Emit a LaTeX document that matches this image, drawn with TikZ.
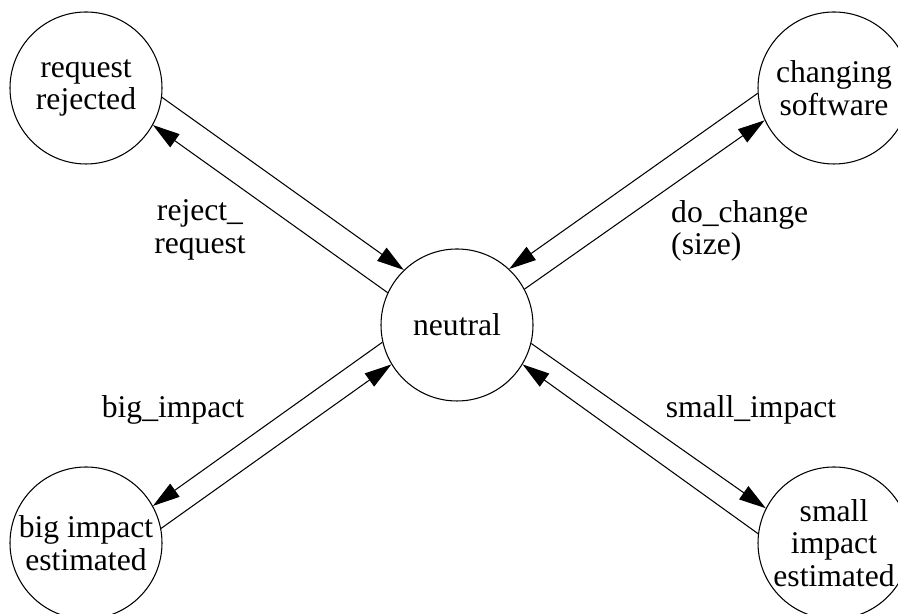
\documentclass[tikz,border=0pt]{standalone}
\usepackage{fontspec}
\setmainfont{Liberation Serif}
\usepackage{tikz}
\usetikzlibrary{arrows.meta}

\tikzset{
    state/.style={
        circle,
        draw=black,
        line width=0.6pt,
        minimum size=3.04cm,
        inner sep=0pt,
        align=center,
        font=\fontsize{18}{18.6}\selectfont
    },
    trans/.style={
        line width=0.6pt,
        -{Triangle[length=0.54cm,width=0.32cm]}
    },
    lbl/.style={
        font=\fontsize{18}{18.6}\selectfont
    }
}

\begin{document}
\begin{tikzpicture}

        \useasboundingbox (0,0) rectangle (17.96,12.28);

        % =====================================================
        % ESTADOS
        % =====================================================

        \node[state] (neutral) at (9.14,5.78) {neutral};

        \node[state] (rejected) at (1.72,10.52) {request\\rejected};
        \node[state] (changing) at (16.68,10.52) {changing\\software};
        \node[state] (bigimp) at (1.72,1.42) {big impact\\estimated};
        \node[state] (smallimp) at (16.68,1.42) {small\\impact\\estimated};

        % =====================================================
        % TRANSICIONES
        % =====================================================

        % Rechazo
        \draw[trans] (rejected.-7.5) -- (neutral.134.5);
        \draw[trans] (neutral.155.4) -- (rejected.-29.3);

        % Cambio
        \draw[trans] (changing.184) -- (neutral.47);
        \draw[trans] (neutral.28.2) -- (changing.205.2);

        % Impacto grande
        \draw[trans] (neutral.193) -- (bigimp.29.3);
        \draw[trans] (bigimp.11.9) -- (neutral.211.4);

        % Impacto pequeño
        \draw[trans] (neutral.-14.4) -- (smallimp.153.8);
        \draw[trans] (smallimp.173.2) -- (neutral.-31.8);

        % =====================================================
        % ETIQUETAS
        % =====================================================

        \node[lbl, align=center] (lreject) at (4.0,7.68) {reject\_\\request};
        \node[lbl, align=left, anchor=west] (lchange) at (13.3,7.66) {do\_change\\(size)};
        \node[lbl] (lbig) at (3.46,4.08) {big\_impact};
        \node[lbl] (lsmall) at (15.02,4.08) {small\_impact};

    \end{tikzpicture}
\end{document}
